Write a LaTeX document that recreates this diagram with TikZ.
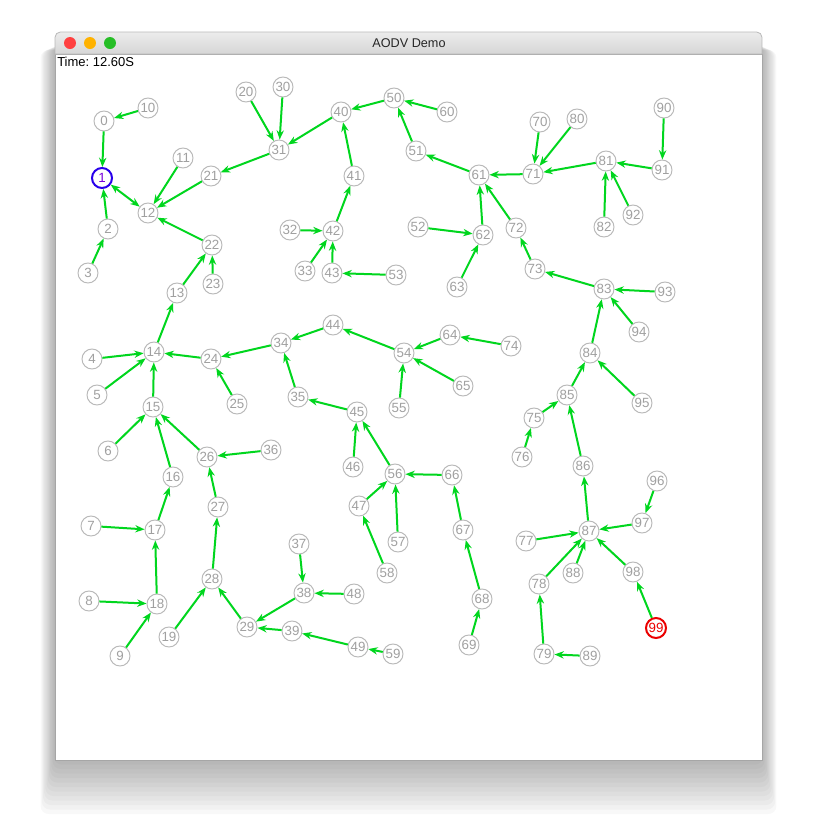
\documentclass[tikz,border=0pt]{standalone}
\usepackage{fontspec}
\setmainfont{Liberation Sans}
\usepackage{xcolor}
\usetikzlibrary{arrows.meta}

\definecolor{linkgreen}{RGB}{0,214,30}
\definecolor{hostline}{RGB}{184,184,184}
\definecolor{hosttext}{RGB}{160,160,160}
\definecolor{srcblue}{RGB}{40,0,235}
\definecolor{srctext}{RGB}{120,0,220}
\definecolor{dstred}{RGB}{235,0,0}
\definecolor{titletop}{RGB}{236,236,236}
\definecolor{titlebot}{RGB}{214,214,214}

\tikzset{
  host/.style={circle,draw=hostline,text=hosttext,line width=0.7pt,minimum size=15pt,inner sep=0pt,font=\fontsize{10}{10}\selectfont},
  src/.style={host,draw=srcblue,text=srctext,line width=1.5pt},
  dst/.style={host,draw=dstred,text=dstred,line width=1.5pt},
  link/.style={linkgreen,line width=1.5pt,>={Stealth[length=7pt,width=5.5pt]}}
}

\begin{document}
\begin{tikzpicture}[x=0.75pt,y=-0.75pt]
\useasboundingbox (0,0) rectangle (818,840);
\foreach \s in {1,...,12}
  \fill[black,opacity=0.028,rounded corners=6pt] (55-1.2*\s,44+0.5*\s) rectangle (762+1.2*\s,760+4.5*\s);
\fill[white] (55,54) rectangle (762,760);
\draw[gray!70,line width=0.6pt] (55,54) rectangle (762,760);
\shade[top color=titletop,bottom color=titlebot,draw=gray!55,line width=0.6pt]
  (55,54) [rounded corners=4pt] -- (55,32) -- (762,32) [sharp corners] -- (762,54) -- cycle;
\fill[red!75!white] (70,43) circle (6);
\fill[orange!60!yellow] (90,43) circle (6);
\fill[green!70!black!85] (110,43) circle (6);
\node[text=gray!30!black,font=\fontsize{9.5}{10}\selectfont] (title) at (409,43) {AODV Demo};
\node[anchor=west,inner sep=0pt,font=\fontsize{9.75}{10}\selectfont] (clock) at (57,62) {Time:\ 12.60S};

\foreach \n/\x/\y in {0/104/121, 2/108/229, 3/88/273, 4/92/359, 5/97/395, 6/108/451,
  7/91/526, 8/89/601, 9/120/656, 10/148/108, 11/183/158, 12/148/213, 13/177/293,
  14/154/352, 15/153/407, 16/173/477, 17/155/530, 18/157/604, 19/169/637,
  20/246/92, 21/211/176, 22/212/245, 23/213/284, 24/211/359, 25/237/404,
  26/207/457, 27/218/507, 28/212/579, 29/247/627, 30/283/87, 31/279/150,
  32/290/230, 33/305/271, 34/281/343, 35/298/397, 36/271/450, 37/299/544,
  38/304/593, 39/292/631, 40/341/112, 41/354/176, 42/333/231, 43/332/273,
  44/333/325, 45/357/412, 46/353/467, 47/359/506, 48/354/594, 49/358/647,
  50/394/98, 51/416/151, 52/418/227, 53/396/275, 54/404/353, 55/399/408,
  56/395/474, 57/398/542, 58/387/573, 59/393/654, 60/447/112, 61/479/175,
  62/483/235, 63/457/287, 64/450/335, 65/463/386, 66/452/475, 67/463/530,
  68/482/599, 69/469/645, 70/540/122, 71/533/174, 72/516/228, 73/535/269,
  74/511/346, 75/534/418, 76/522/457, 77/526/541, 78/539/584, 79/544/654,
  80/577/119, 81/606/161, 82/604/227, 83/604/289, 84/590/353, 85/567/395,
  86/583/466, 87/589/531, 88/573/573, 89/590/656, 90/664/108, 91/662/170,
  92/633/215, 93/665/292, 94/639/332, 95/642/403, 96/657/481, 97/642/523,
  98/633/572}
  \node[host] (n\n) at (\x,\y) {\n};
\node[src] (n1) at (102,178) {1};
\node[dst] (n99) at (656,628) {99};

\path[link,<->] (n1) edge (n12);
\path[link,<-]
(n0) edge (n10)
(n1) edge (n0) edge (n2)
(n2) edge (n3)
(n12) edge (n11) edge (n21) edge (n22)
(n22) edge (n13) edge (n23)
(n13) edge (n14)
(n21) edge (n31)
(n31) edge (n20) edge (n30) edge (n40)
(n40) edge (n50) edge (n41)
(n41) edge (n42)
(n42) edge (n32) edge (n33) edge (n43)
(n43) edge (n53)
(n50) edge (n60) edge (n51)
(n51) edge (n61)
(n61) edge (n71) edge (n62) edge (n72)
(n62) edge (n52) edge (n63)
(n71) edge (n70) edge (n80) edge (n81)
(n81) edge (n91) edge (n82) edge (n92)
(n91) edge (n90)
(n72) edge (n73)
(n73) edge (n83)
(n83) edge (n93) edge (n94) edge (n84)
(n84) edge (n85) edge (n95)
(n85) edge (n75) edge (n86)
(n75) edge (n76)
(n86) edge (n87)
(n87) edge (n77) edge (n78) edge (n88) edge (n97) edge (n98)
(n97) edge (n96)
(n98) edge (n99)
(n78) edge (n79)
(n79) edge (n89)
(n14) edge (n4) edge (n5) edge (n15) edge (n24)
(n24) edge (n34) edge (n25)
(n34) edge (n44) edge (n35)
(n44) edge (n54)
(n54) edge (n64) edge (n55) edge (n65)
(n64) edge (n74)
(n35) edge (n45)
(n45) edge (n46) edge (n56)
(n56) edge (n66) edge (n47) edge (n57)
(n47) edge (n58)
(n66) edge (n67)
(n67) edge (n68)
(n68) edge (n69)
(n15) edge (n6) edge (n16) edge (n26)
(n16) edge (n17)
(n17) edge (n7) edge (n18)
(n18) edge (n8) edge (n9)
(n26) edge (n36) edge (n27)
(n27) edge (n28)
(n28) edge (n19) edge (n29)
(n29) edge (n38) edge (n39)
(n38) edge (n37) edge (n48)
(n39) edge (n49)
(n49) edge (n59)
;
\end{tikzpicture}
\end{document}
